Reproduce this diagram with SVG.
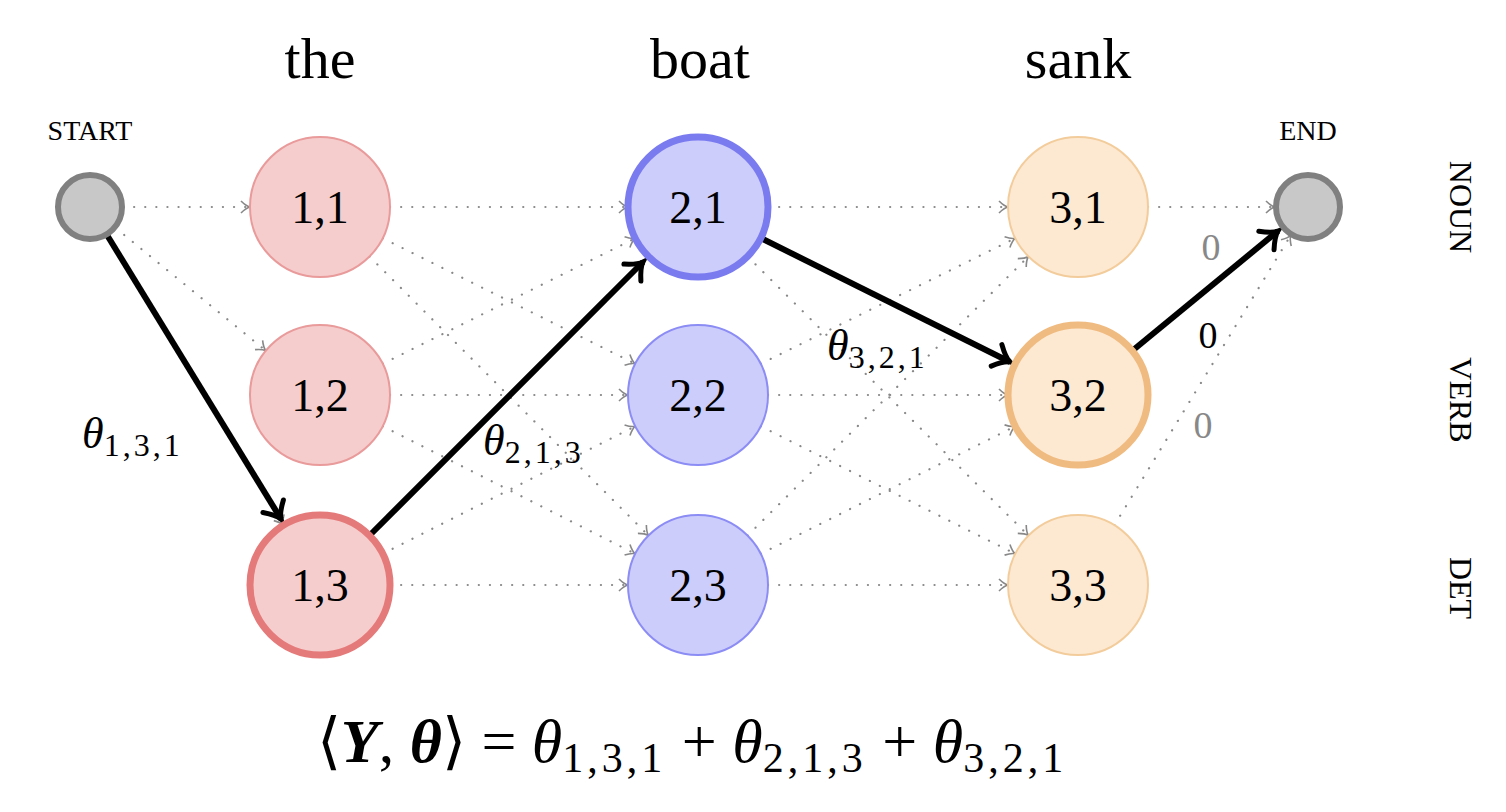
<svg xmlns="http://www.w3.org/2000/svg" width="1506" height="812" viewBox="0 0 1506 812">
<defs>
<marker id="da" markerWidth="14" markerHeight="14" refX="0" refY="0" viewBox="-12 -7 14 14" orient="auto" markerUnits="userSpaceOnUse"><path d="M-9,-6 Q-4,-1 0,0 Q-4,1 -9,6" fill="none" stroke="#888" stroke-width="1.6"/></marker>
<marker id="ba" markerWidth="30" markerHeight="30" refX="0" refY="0" viewBox="-20 -15 24 30" orient="auto" markerUnits="userSpaceOnUse"><path d="M-15,-12 Q-6,-2 0,0 Q-6,2 -15,12" fill="none" stroke="#000" stroke-width="5" stroke-linecap="round"/></marker>
</defs>
<style>
.d{stroke:#888;stroke-width:2.2;stroke-dasharray:0.1 11;stroke-linecap:round;fill:none;marker-end:url(#da)}
.b{stroke:#000;stroke-width:6;fill:none;marker-end:url(#ba)}
.t{font-family:"Liberation Serif",serif;fill:#000}
.lab{font-family:"Liberation Serif",serif;font-size:46px;text-anchor:middle;dominant-baseline:central}
.r{fill:#f6cdcd;stroke:#e99a9a;stroke-width:2}
.bl{fill:#cdcdfc;stroke:#8c8cf5;stroke-width:2}
.o{fill:#fde9d2;stroke:#f3cc9c;stroke-width:2}
.g{fill:#c8c8c8;stroke:#808080;stroke-width:6}
</style>
<rect width="1506" height="812" fill="#fff"/>
<text class="t" x="320" y="78" font-size="58" text-anchor="middle">the</text>
<text class="t" x="700" y="78" font-size="58" text-anchor="middle">boat</text>
<text class="t" x="1078" y="78" font-size="58" text-anchor="middle">sank</text>
<text class="t" x="90" y="140" font-size="28" text-anchor="middle">START</text>
<text class="t" x="1308" y="140" font-size="28" text-anchor="middle">END</text>
<text class="t" font-size="32" transform="translate(1450,207) rotate(90)" text-anchor="middle">NOUN</text>
<text class="t" font-size="32" transform="translate(1450,400) rotate(90)" text-anchor="middle">VERB</text>
<text class="t" font-size="32" transform="translate(1450,588) rotate(90)" text-anchor="middle">DET</text>
<g id="connectors">
<line class="d" x1="123" y1="207" x2="250" y2="207"/>
<line class="d" x1="115.6" y1="227.9" x2="265.8" y2="350.7"/>
<line class="d" x1="107.2" y1="235.2" x2="283.6" y2="525.2"/>
<line class="d" x1="390" y1="207" x2="628" y2="207"/>
<line class="d" x1="390" y1="395" x2="628" y2="395"/>
<line class="d" x1="390" y1="585" x2="628" y2="585"/>
<line class="d" x1="382.7" y1="238.2" x2="635.3" y2="363.8"/>
<line class="d" x1="382.7" y1="363.8" x2="635.3" y2="238.2"/>
<line class="d" x1="382.7" y1="426.2" x2="635.3" y2="553.8"/>
<line class="d" x1="382.7" y1="553.8" x2="635.3" y2="426.2"/>
<line class="d" x1="369.5" y1="256.5" x2="648.5" y2="535.5"/>
<line class="d" x1="768" y1="207" x2="1008" y2="207"/>
<line class="d" x1="768" y1="395" x2="1008" y2="395"/>
<line class="d" x1="768" y1="585" x2="1008" y2="585"/>
<line class="d" x1="760.7" y1="363.8" x2="1015.3" y2="238.2"/>
<line class="d" x1="760.7" y1="426.2" x2="1015.3" y2="553.8"/>
<line class="d" x1="760.7" y1="553.8" x2="1015.3" y2="426.2"/>
<line class="d" x1="747.6" y1="256.5" x2="1028.4" y2="535.5"/>
<line class="d" x1="747.6" y1="535.5" x2="1028.4" y2="256.5"/>
<line class="d" x1="1148" y1="207" x2="1275" y2="207"/>
<line class="d" x1="1114.4" y1="525.2" x2="1290.8" y2="235.2"/>
<line class="b" x1="107" y1="235" x2="281" y2="519"/>
<line class="b" x1="369.5" y1="535.5" x2="643" y2="262"/>
<line class="b" x1="760.7" y1="238" x2="1010" y2="362"/>
<line class="b" x1="1132" y1="351" x2="1278" y2="231"/>
</g>
<g id="start"><circle class="g" cx="90" cy="207" r="32"/></g>
<g id="end"><circle class="g" cx="1308" cy="207" r="32"/></g>
<g id="n11"><circle class="r" cx="320" cy="207" r="70"/><text class="lab" x="320" y="207">1,1</text></g>
<g id="n12"><circle class="r" cx="320" cy="395" r="70"/><text class="lab" x="320" y="395">1,2</text></g>
<g id="n13"><circle class="r" cx="320" cy="585" r="70" style="stroke:#e57a7a;stroke-width:7"/><text class="lab" x="320" y="585">1,3</text></g>
<g id="n21"><circle class="bl" cx="698" cy="207" r="70" style="stroke:#7b7bf0;stroke-width:7"/><text class="lab" x="698" y="207">2,1</text></g>
<g id="n22"><circle class="bl" cx="698" cy="395" r="70"/><text class="lab" x="698" y="395">2,2</text></g>
<g id="n23"><circle class="bl" cx="698" cy="585" r="70"/><text class="lab" x="698" y="585">2,3</text></g>
<g id="n31"><circle class="o" cx="1078" cy="207" r="70"/><text class="lab" x="1078" y="207">3,1</text></g>
<g id="n32"><circle class="o" cx="1078" cy="395" r="70" style="stroke:#f0bb80;stroke-width:7"/><text class="lab" x="1078" y="395">3,2</text></g>
<g id="n33"><circle class="o" cx="1078" cy="585" r="70"/><text class="lab" x="1078" y="585">3,3</text></g>
<g id="labels" class="t">
<text x="82" y="448" font-size="44"><tspan font-style="italic">θ</tspan><tspan font-size="32" dy="8" letter-spacing="3">1,3,1</tspan></text>
<text x="483" y="455" font-size="44"><tspan font-style="italic">θ</tspan><tspan font-size="32" dy="8" letter-spacing="3">2,1,3</tspan></text>
<text x="827" y="360" font-size="44"><tspan font-style="italic">θ</tspan><tspan font-size="32" dy="8" letter-spacing="3">3,2,1</tspan></text>
<text x="1211" y="260" font-size="38" fill="#888" text-anchor="middle">0</text>
<text x="1208" y="348" font-size="38" text-anchor="middle">0</text>
<text x="1203" y="438" font-size="38" fill="#888" text-anchor="middle">0</text>
<text x="692" y="762" font-size="62" text-anchor="middle">⟨<tspan font-weight="bold" font-style="italic">Y</tspan>, <tspan font-weight="bold" font-style="italic">θ</tspan>⟩ = <tspan font-style="italic">θ</tspan><tspan font-size="42" dy="10" letter-spacing="4">1,3,1</tspan><tspan dy="-10"> + </tspan><tspan font-style="italic">θ</tspan><tspan font-size="42" dy="10" letter-spacing="4">2,1,3</tspan><tspan dy="-10"> + </tspan><tspan font-style="italic">θ</tspan><tspan font-size="42" dy="10" letter-spacing="4">3,2,1</tspan></text>
</g>
</svg>
